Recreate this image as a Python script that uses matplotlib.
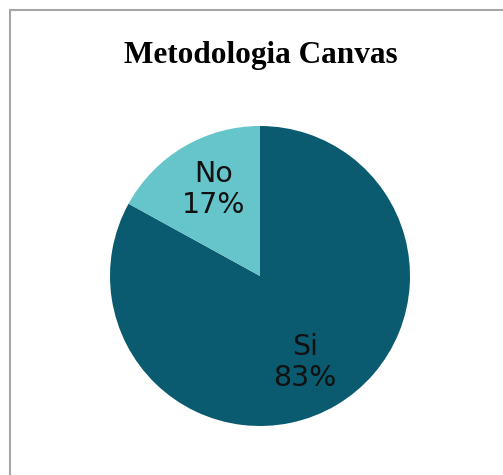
import matplotlib.pyplot as plt
from matplotlib.patches import Rectangle

categories = ["Si", "No"]
values = [83, 17]
colors = ["#0A5A70", "#66C5CA"]

W, H = 503, 475
fig = plt.figure(figsize=(W / 100, H / 100), dpi=100)
ax = fig.add_axes([0, 0, 1, 1])

# chart frame (runs off the right and bottom edges)
ax.add_patch(Rectangle((10.5, -20), W, H - 9.5 + 20, fill=False,
                       edgecolor="#A6A6A6", linewidth=1.5))

ax.text(261, H - 55, "Metodologia Canvas", ha="center", va="center",
        fontsize=22.5, fontweight="bold", family="Liberation Serif")

names = iter(categories)
wedges, _, autotexts = ax.pie(
    values, colors=colors, startangle=90, counterclock=False,
    center=(260, H - 276), radius=150, frame=True,
    autopct=lambda p: f"{next(names)}\n{p:.0f}%", pctdistance=0.67,
    textprops=dict(fontsize=20.5, color="#111111", linespacing=1.15),
)
# nudge labels toward the vertical split, like the spreadsheet layout
autotexts[0].set_x(autotexts[0].get_position()[0] - 6)
autotexts[1].set_x(autotexts[1].get_position()[0] + 5)

ax.set_xlim(0, W)
ax.set_ylim(0, H)
ax.set_aspect("equal")
ax.axis("off")

fig.savefig("out.png", dpi=100)
